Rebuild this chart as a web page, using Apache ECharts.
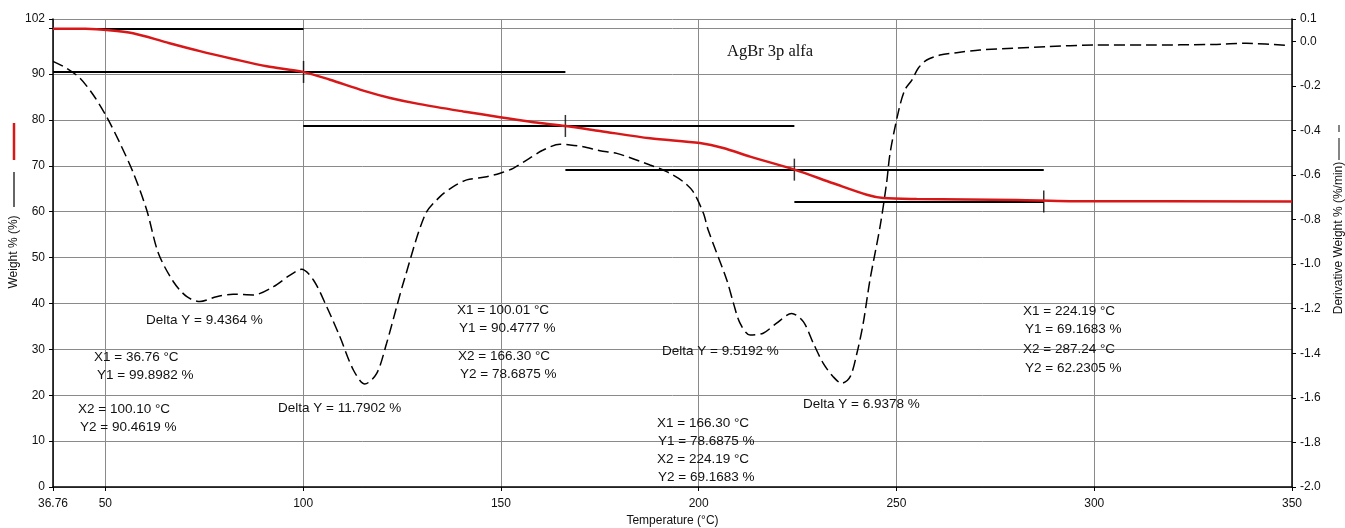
<!DOCTYPE html>
<html><head><meta charset="utf-8">
<script src="https://cdn.jsdelivr.net/npm/echarts@6/dist/echarts.min.js"></script>
<style>html,body{margin:0;padding:0;background:#fff}#c{width:1345px;height:528px}</style>
</head><body><div id="c"></div>
<script>
// ---- data ----
const xTickValues = [36.76, 50, 100, 150, 200, 250, 300, 350];
const weightT = [36.76, 45, 50.3, 57, 65.5, 73.9, 82.3, 90.8, 100, 106.8, 115.2, 122, 129.5, 140.5, 149.8, 158.2, 166.3, 175, 187.7, 200.3, 206.2, 213, 224.19, 234, 242.5, 246.7, 255.1, 280.4, 293.9, 350];
const weightV = [99.9, 99.85, 99.6, 98.9, 96.9, 95.0, 93.3, 91.7, 90.48, 88.75, 86.4, 84.8, 83.45, 81.85, 80.6, 79.5, 78.69, 77.6, 76.0, 74.95, 73.9, 72.0, 69.17, 66.2, 63.7, 62.97, 62.75, 62.55, 62.3, 62.25];
const derivT = [36.76, 40.2, 43.6, 46.95, 50.3, 53.7, 57.1, 60.45, 63.4, 67.2, 70.6, 73.9, 78.1, 82.3, 87.4, 92.5, 96.7, 99.6, 102.6, 105.96, 109.3, 112.7, 115.6, 118.6, 121.1, 123.65, 125.3, 130.8, 134.6, 137.96, 141.35, 146.4, 149.8, 153.1, 156.5, 160.7, 164.95, 167.5, 170.8, 175.05, 179.3, 187.7, 191.9, 196.1, 198.6, 201.2, 202.4, 207.1, 208.8, 210.45, 213.0, 216.3, 219.7, 223.5, 226.45, 228.98, 231.5, 234.0, 236.15, 238.3, 240.0, 241.6, 243.3, 245.85, 247.5, 248.4, 250.6, 252.1, 253.9, 255.5, 257.65, 261.0, 265.2, 271.1, 279.55, 288.0, 299.8, 313.3, 330.1, 338.5, 349.5];
const derivV = [-0.09, -0.121, -0.166, -0.241, -0.338, -0.458, -0.592, -0.757, -0.951, -1.079, -1.146, -1.168, -1.146, -1.135, -1.138, -1.101, -1.049, -1.023, -1.071, -1.191, -1.326, -1.475, -1.538, -1.49, -1.355, -1.191, -1.086, -0.779, -0.697, -0.652, -0.622, -0.608, -0.592, -0.570, -0.533, -0.488, -0.462, -0.465, -0.473, -0.491, -0.503, -0.555, -0.585, -0.630, -0.675, -0.772, -0.847, -1.071, -1.176, -1.265, -1.318, -1.310, -1.265, -1.221, -1.258, -1.355, -1.445, -1.505, -1.535, -1.505, -1.4, -1.265, -1.071, -0.832, -0.637, -0.5, -0.308, -0.219, -0.174, -0.121, -0.084, -0.062, -0.051, -0.039, -0.031, -0.024, -0.017, -0.017, -0.014, -0.009, -0.020];
const stepX1 = [36.76, 100.01, 166.30, 224.19];
const stepY1 = [99.8982, 90.4777, 78.6875, 69.1683];
const stepX2 = [100.10, 166.30, 224.19, 287.24];
const stepY2 = [90.4619, 78.6875, 69.1683, 62.2305];
const deltaY = [9.4364, 11.7902, 9.5192, 6.9378];
const chartTitle = 'AgBr 3p alfa';
const xName = 'Temperature (°C)';
const yLeftName = 'Weight % (%)';
const yRightName = 'Derivative Weight % (%/min)';

// ---- layout (pixel positions of annotation text) ----
const deltaPos = [[146, 320], [278, 408], [662, 351], [803, 404]];
const infoPos = [
  [[94, 357], [97, 375], [78, 409], [80, 427]],
  [[457, 310], [459, 328], [458, 356], [460, 374]],
  [[657, 423], [658, 441], [657, 459], [658, 477]],
  [[1023, 311], [1025, 329], [1023, 349], [1025, 368]]
];

const FONT = "'Liberation Sans', Arial, sans-serif";
const chart = echarts.init(document.getElementById('c'), null, {renderer: 'canvas'});

const weightData = weightT.map((t, i) => [t, weightV[i]]);
const derivData = derivT.map((t, i) => [t, derivV[i]]);
const stepLines = [];
stepX1.forEach((x1, i) => {
  stepLines.push({coords: [[x1, stepY1[i]], [stepX2[i], stepY1[i]]]});
  stepLines.push({coords: [[x1, stepY2[i]], [stepX2[i], stepY2[i]]]});
});
const stepMarks = stepX2.map((x2, i) => [x2, stepY2[i]]);

const graphics = [];
function txt(s, x, y, size) {
  graphics.push({
    type: 'text', x: x, y: y, z: 100,
    style: {text: s, fill: '#111', font: size + 'px ' + FONT, textAlign: 'left', textVerticalAlign: 'middle', align: 'left', verticalAlign: 'middle'}
  });
}
stepX1.forEach((x1, i) => {
  const p = infoPos[i];
  txt('X1 = ' + x1.toFixed(2) + ' °C', p[0][0], p[0][1], 13.5);
  txt('Y1 = ' + stepY1[i].toFixed(4) + ' %', p[1][0], p[1][1], 13.5);
  txt('X2 = ' + stepX2[i].toFixed(2) + ' °C', p[2][0], p[2][1], 13.5);
  txt('Y2 = ' + stepY2[i].toFixed(4) + ' %', p[3][0], p[3][1], 13.5);
  txt('Delta Y = ' + deltaY[i].toFixed(4) + ' %', deltaPos[i][0], deltaPos[i][1], 13.5);
});
graphics.push({type: 'text', x: 727, y: 52, z: 100,
  style: {text: chartTitle, fill: '#111', font: "16.5px 'Liberation Serif', 'Times New Roman', serif", textVerticalAlign: 'middle', verticalAlign: 'middle'}});
// left axis name with legend strokes
graphics.push({type: 'text', x: 14, y: 252, rotation: Math.PI / 2, z: 100,
  style: {text: yLeftName, fill: '#111', font: '12px ' + FONT, textAlign: 'center', textVerticalAlign: 'middle', align: 'center', verticalAlign: 'middle'}});
graphics.push({type: 'line', shape: {x1: 14, y1: 123, x2: 14, y2: 160}, style: {stroke: '#d81818', lineWidth: 2.5}});
graphics.push({type: 'line', shape: {x1: 14, y1: 172, x2: 14, y2: 207}, style: {stroke: '#333', lineWidth: 1.5}});
// right axis name with legend strokes
graphics.push({type: 'text', x: 1339, y: 238, rotation: Math.PI / 2, z: 100,
  style: {text: yRightName, fill: '#111', font: '12px ' + FONT, textAlign: 'center', textVerticalAlign: 'middle', align: 'center', verticalAlign: 'middle'}});
graphics.push({type: 'line', shape: {x1: 1339, y1: 138, x2: 1339, y2: 160}, style: {stroke: '#333', lineWidth: 1.2}});
graphics.push({type: 'line', shape: {x1: 1339, y1: 125, x2: 1339, y2: 132}, style: {stroke: '#333', lineWidth: 1.2}});

const axisLabelStyle = {color: '#111', fontSize: 12, fontFamily: FONT};
const option = {
  animation: false,
  backgroundColor: '#fff',
  grid: {left: 53, right: 53, top: 19, bottom: 41, containLabel: false, outerBoundsMode: 'none'},
  xAxis: {
    type: 'value', min: 36.76, max: 350,
    name: xName, nameLocation: 'middle', nameGap: 26,
    nameTextStyle: {color: '#111', fontSize: 12, fontFamily: FONT},
    axisLine: {show: true, onZero: false, lineStyle: {color: '#000', width: 1.5}},
    axisTick: {show: true, length: 4, customValues: xTickValues, lineStyle: {color: '#000'}},
    axisLabel: Object.assign({customValues: xTickValues, margin: 11, formatter: v => String(v)}, axisLabelStyle),
    splitLine: {show: true, lineStyle: {color: '#8a8a8a', width: 1}}
  },
  yAxis: [
    {
      type: 'value', min: 0, max: 102, interval: 10, position: 'left',
      axisLine: {show: true, lineStyle: {color: '#000', width: 1.5}},
      axisTick: {show: true, length: 4, lineStyle: {color: '#000'}},
      axisLabel: Object.assign({margin: 8, formatter: v => (v === 100 ? '' : String(v))}, axisLabelStyle),
      splitLine: {show: true, lineStyle: {color: '#8a8a8a', width: 1}}
    },
    {
      type: 'value', min: -2.0, max: 0.1, interval: 0.2, position: 'right',
      axisLine: {show: true, lineStyle: {color: '#000', width: 1.5}},
      axisTick: {show: true, length: 4, lineStyle: {color: '#000'}},
      axisLabel: Object.assign({margin: 8, formatter: v => (Math.abs(v) < 1e-9 ? 0 : v).toFixed(1)}, axisLabelStyle),
      splitLine: {show: false}
    }
  ],
  series: [
    {
      name: 'Derivative', type: 'line', yAxisIndex: 1, data: derivData, smooth: 0.3,
      showSymbol: false, z: 3,
      lineStyle: {color: '#000', width: 1.5, type: [11, 5]}
    },
    {
      name: 'Steps', type: 'lines', coordinateSystem: 'cartesian2d', yAxisIndex: 0,
      data: stepLines, z: 4, silent: true,
      lineStyle: {color: '#000', width: 2, opacity: 1}
    },
    {
      name: 'StepMarks', type: 'scatter', yAxisIndex: 0, data: stepMarks,
      symbol: 'rect', symbolSize: [1.5, 22], z: 5, silent: true,
      itemStyle: {color: '#000'}
    },
    {
      name: 'Weight', type: 'line', yAxisIndex: 0, data: weightData, smooth: 0.3,
      showSymbol: false, z: 6,
      lineStyle: {color: '#d81818', width: 2.5}
    }
  ],
  graphic: graphics
};
chart.setOption(option);
</script>
</body></html>
